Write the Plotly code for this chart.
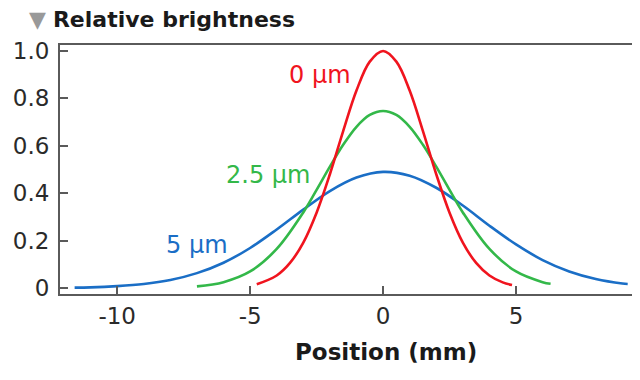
import plotly.graph_objects as go

# ---- data ----
red_x = [-4.75, -4.0, -3.5, -3.0, -2.5, -2.0, -1.5, -1.0, -0.5, 0.0, 0.5, 1.0, 1.5, 2.0, 2.5, 3.0, 3.5, 4.0, 4.5, 4.85]
red_y = [0.016, 0.053, 0.106, 0.192, 0.318, 0.480, 0.662, 0.833, 0.955, 1.0, 0.955, 0.833, 0.662, 0.480, 0.318, 0.192, 0.106, 0.053, 0.024, 0.013]

green_x = [-7.0, -6.0, -5.0, -4.0, -3.0, -2.5, -2.0, -1.5, -1.0, -0.5, 0.0, 0.5, 1.0, 1.5, 2.0, 2.5, 3.0, 4.0, 5.0, 6.0, 6.3]
green_y = [0.007, 0.025, 0.070, 0.165, 0.319, 0.414, 0.512, 0.604, 0.680, 0.730, 0.747, 0.730, 0.680, 0.604, 0.512, 0.414, 0.319, 0.165, 0.070, 0.025, 0.018]

blue_x = [-11.6, -11.0, -10.0, -9.0, -8.0, -7.0, -6.0, -5.0, -4.0, -3.0, -2.0, -1.0, 0.0, 1.0, 2.0, 3.0, 4.0, 5.0, 6.0, 7.0, 8.0, 9.0, 9.2]
blue_y = [0.002, 0.003, 0.008, 0.017, 0.034, 0.063, 0.107, 0.169, 0.247, 0.331, 0.409, 0.466, 0.490, 0.474, 0.423, 0.348, 0.263, 0.184, 0.118, 0.070, 0.038, 0.019, 0.017]

series_names = ["0 µm", "2.5 µm", "5 µm"]
y_ticks = [0, 0.2, 0.4, 0.6, 0.8, 1.0]
y_tick_text = ["0", "0.2", "0.4", "0.6", "0.8", "1.0"]
x_ticks = [-10, -5, 0, 5]
x_tick_text = ["-10", "-5", "0", "5"]

RED = "#f0141e"
GREEN = "#33b849"
BLUE = "#1a6ec6"
FONT = "DejaVu Sans"

fig = go.Figure()
for xs, ys, col, nm in [(blue_x, blue_y, BLUE, series_names[2]),
                        (green_x, green_y, GREEN, series_names[1]),
                        (red_x, red_y, RED, series_names[0])]:
    fig.add_trace(go.Scatter(x=xs, y=ys, mode="lines", name=nm,
                             line=dict(color=col, width=2.6, shape="spline", smoothing=1.0),
                             hoverinfo="skip"))

label_font = dict(family=FONT, size=24)
fig.add_annotation(x=-2.37, y=0.90, xref="x", yref="y", text=series_names[0], showarrow=False,
                   font=dict(color=RED, **label_font))
fig.add_annotation(x=-4.32, y=0.477, xref="x", yref="y", text=series_names[1], showarrow=False,
                   font=dict(color=GREEN, **label_font))
fig.add_annotation(x=-6.99, y=0.181, xref="x", yref="y", text=series_names[2], showarrow=False,
                   font=dict(color=BLUE, **label_font))

# title with grey triangle
fig.add_annotation(x=-0.057, y=1.104, xref="paper", yref="paper", xanchor="left", yanchor="middle",
                   text="<span style='color:#999999'>▼</span> <b>Relative brightness</b>",
                   showarrow=False, font=dict(family=FONT, size=22, color="#1a1a1a"))
# x axis title
fig.add_annotation(x=0.565, y=-0.233, xref="paper", yref="paper", xanchor="center", yanchor="middle",
                   text="<b>Position (mm)</b>", showarrow=False,
                   font=dict(family=FONT, size=23, color="#1a1a1a"))

axis_common = dict(showline=True, mirror=True, linecolor="#5a5a5a", linewidth=2,
                   showgrid=False, zeroline=False, ticks="inside", ticklen=8,
                   tickwidth=1.5, tickcolor="#5a5a5a", automargin=False,
                   tickfont=dict(family=FONT, size=23, color="#2a2a2a"))

# the page body adds an 8 px margin, so the figure is sized to fit the window
fig.update_layout(
    width=632, height=372,
    margin=dict(l=52, r=3, t=37, b=86),
    paper_bgcolor="white", plot_bgcolor="white",
    showlegend=False,
    xaxis=dict(range=[-12.15, 9.55], tickvals=x_ticks, ticktext=x_tick_text,
               ticklabelstandoff=0, **axis_common),
    yaxis=dict(range=[-0.025, 1.025], tickvals=y_ticks, ticktext=y_tick_text,
               ticklabelstandoff=4, **axis_common),
)

fig.write_html("out.html")
